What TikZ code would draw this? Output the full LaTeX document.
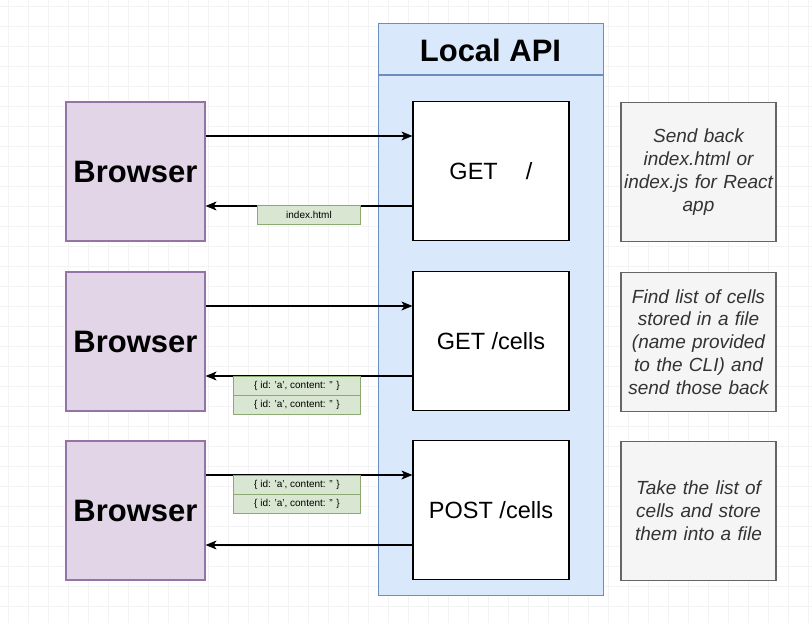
\documentclass[tikz,border=0pt]{standalone}
\usepackage{fontspec}
\setmainfont{Liberation Sans}
\usetikzlibrary{arrows.meta}
\definecolor{apifill}{HTML}{DAE8FC}
\definecolor{apiline}{HTML}{6C8EBF}
\definecolor{brfill}{HTML}{E1D5E7}
\definecolor{brline}{HTML}{9673A6}
\definecolor{notefill}{HTML}{F5F5F5}
\definecolor{noteline}{HTML}{666666}
\definecolor{notetext}{HTML}{333333}
\definecolor{tagfill}{HTML}{D8E6D2}
\definecolor{tagline}{HTML}{8AAA72}
\definecolor{gridline}{HTML}{F3F3F3}
\tikzset{
  x=1pt, y=-1pt,
  browser/.style={draw=brline, fill=brfill, line width=1.2pt, minimum width=139pt, minimum height=139pt,
    inner sep=0pt, font=\fontsize{31}{35}\selectfont\bfseries},
  endpoint/.style={draw=black, fill=white, line width=1.2pt, minimum width=156pt, minimum height=139pt,
    inner sep=0pt, font=\fontsize{23.5}{27}\selectfont},
  note/.style={draw=noteline, fill=notefill, line width=1.2pt, minimum width=155pt, minimum height=139pt,
    inner sep=0pt, text width=152pt, align=center, text=notetext, font=\fontsize{19}{22.8}\selectfont\itshape},
  tag/.style={draw=tagline, fill=tagfill, line width=1pt, minimum height=19pt, inner sep=0pt,
    font=\fontsize{10}{12}\selectfont},
  link/.style={draw=black, line width=1.2pt, -{Stealth[length=11pt,width=9pt,inset=3pt]}},
}
\begin{document}
\begin{tikzpicture}
\useasboundingbox (0,0) rectangle (812,623);
\fill[white] (0,0) rectangle (812,623);
% canvas grid
\foreach \gx in {8,28,...,808} \draw[gridline, line width=0.6pt] (\gx,0) -- (\gx,623);
\foreach \gy in {6,26,...,620} \draw[gridline, line width=0.6pt] (0,\gy) -- (812,\gy);

% Local API container with header
\node[draw=apiline, fill=apifill, line width=1.2pt, minimum width=225pt, minimum height=572pt,
      inner sep=0pt, anchor=north west] (api) at (378,23) {};
\draw[apiline, line width=1.2pt] (378,75) -- (603,75);
\node[font=\fontsize{31}{35}\selectfont\bfseries] (apititle) at (490.5,50) {Local API};

% browsers
\node[browser] (b1) at (135.5,171.5) {Browser};
\node[browser] (b2) at (135.5,341.5) {Browser};
\node[browser] (b3) at (135.5,510.5) {Browser};

% endpoints
\node[endpoint] (e1) at (491,171) {GET\hspace{1.2em}/};
\node[endpoint] (e2) at (491,341) {GET /cells};
\node[endpoint] (e3) at (491,510) {POST /cells};

% descriptions
\node[note] (n1) at (698.5,172) {Send back\\index.html or\\index.js for React\\app};
\node[note] (n2) at (698.5,342) {Find list of cells\\stored in a file\\(name provided\\to the CLI) and\\send those back};
\node[note] (n3) at (698.5,511) {Take the list of\\cells and store\\them into a file};

% requests and responses
\draw[link] (b1.east |- 0,136) -- (e1.west |- 0,136);
\draw[link] (e1.west |- 0,206) -- (b1.east |- 0,206);
\draw[link] (b2.east |- 0,306) -- (e2.west |- 0,306);
\draw[link] (e2.west |- 0,376) -- (b2.east |- 0,376);
\draw[link] (b3.east |- 0,475) -- (e3.west |- 0,475);
\draw[link] (e3.west |- 0,545) -- (b3.east |- 0,545);

% payload labels
\node[tag, minimum width=103pt, anchor=north west] (t1) at (257,205) {index.html};
\node[tag, minimum width=127pt, anchor=north west] (t2a) at (233,376) {\{ id: 'a', content: '' \}};
\node[tag, minimum width=127pt, anchor=north west] (t2b) at (233,395) {\{ id: 'a', content: '' \}};
\node[tag, minimum width=127pt, anchor=north west] (t3a) at (233,475) {\{ id: 'a', content: '' \}};
\node[tag, minimum width=127pt, anchor=north west] (t3b) at (233,494) {\{ id: 'a', content: '' \}};
\end{tikzpicture}
\end{document}
